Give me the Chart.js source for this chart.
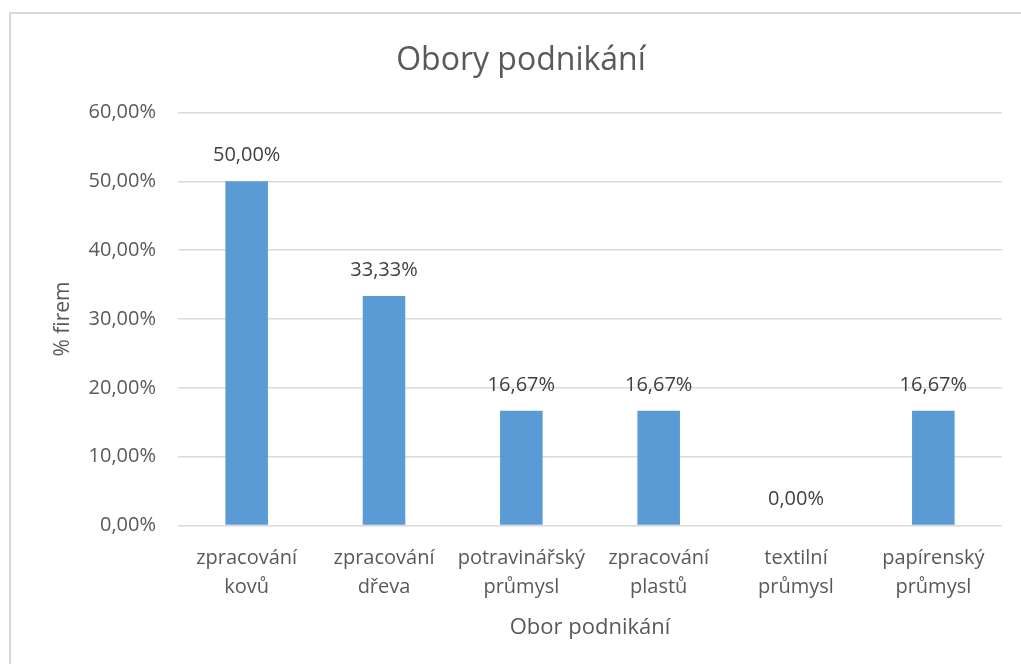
<!DOCTYPE html>
<html>
<head>
<meta charset="utf-8">
<script src="https://cdn.jsdelivr.net/npm/chart.js@4"></script>
<style>
  body { margin: 0; background: #fff; }
  #frame { position: absolute; left: 9px; top: 12px; width: 1030px; height: 670px; border: 2px solid #d9d9d9; box-sizing: border-box; }
  #wrap { position: absolute; left: 0; top: 0; width: 1021px; height: 664px; }
</style>
</head>
<body>
<div id="frame"></div>
<div id="wrap"><canvas id="chart"></canvas></div>
<script>
const categories = [
    ['zpracování', 'kovů'],
    ['zpracování', 'dřeva'],
    ['potravinářský', 'průmysl'],
    ['zpracování', 'plastů'],
    ['textilní', 'průmysl'],
    ['papírenský', 'průmysl']
];
const shareOfFirms = [50.00, 33.33, 16.67, 16.67, 0.00, 16.67];
const yTicks = { min: 0, max: 60, step: 10 };

const FONT = '"Open Sans", sans-serif';
const fmt = v => v.toFixed(2).replace('.', ',') + '%';

// draws the value above each bar
const valueLabels = {
    id: 'valueLabels',
    afterDatasetsDraw(chart) {
        const ctx = chart.ctx;
        const meta = chart.getDatasetMeta(0);
        ctx.save();
        ctx.font = '20px ' + FONT;
        ctx.fillStyle = '#404040';
        ctx.textAlign = 'center';
        ctx.textBaseline = 'middle';
        meta.data.forEach((bar, i) => {
            ctx.fillText(fmt(shareOfFirms[i]), bar.x, bar.y - 26);
        });
        ctx.restore();
    }
};

new Chart(document.getElementById('chart').getContext('2d'), {
    type: 'bar',
    data: {
        labels: categories,
        datasets: [{
            data: shareOfFirms,
            backgroundColor: '#5B9BD5',
            barPercentage: 0.62,
            categoryPercentage: 0.5
        }]
    },
    options: {
        responsive: true,
        maintainAspectRatio: false,
        animation: false,
        layout: { padding: { left: 40, right: 19, top: 0, bottom: 23 } },
        plugins: {
            legend: { display: false },
            tooltip: { enabled: false },
            title: {
                display: true,
                text: 'Obory podnikání',
                color: '#595959',
                font: { family: FONT, size: 32, weight: 'normal' },
                padding: { top: 42, bottom: 32 }
            }
        },
        scales: {
            x: {
                grid: { display: false },
                border: { display: false },
                ticks: {
                    color: '#595959',
                    font: { family: FONT, size: 20, lineHeight: 1.45 },
                    padding: 10,
                    maxRotation: 0,
                    autoSkip: false
                },
                title: {
                    display: true,
                    text: 'Obor podnikání',
                    color: '#595959',
                    font: { family: FONT, size: 22 },
                    padding: { top: 3, bottom: 0 }
                }
            },
            y: {
                min: yTicks.min,
                max: yTicks.max,
                grid: { color: '#d9d9d9', lineWidth: 1.5, drawTicks: false },
                border: { display: false },
                ticks: {
                    stepSize: yTicks.step,
                    color: '#595959',
                    font: { family: FONT, size: 20 },
                    padding: 22,
                    callback: v => fmt(v)
                },
                title: {
                    display: true,
                    text: '% firem',
                    color: '#595959',
                    font: { family: FONT, size: 21 },
                    padding: { top: 10, bottom: 0 }
                },
                afterFit(scale) { scale.width = 138; }
            }
        }
    },
    plugins: [valueLabels]
});
</script>
</body>
</html>
